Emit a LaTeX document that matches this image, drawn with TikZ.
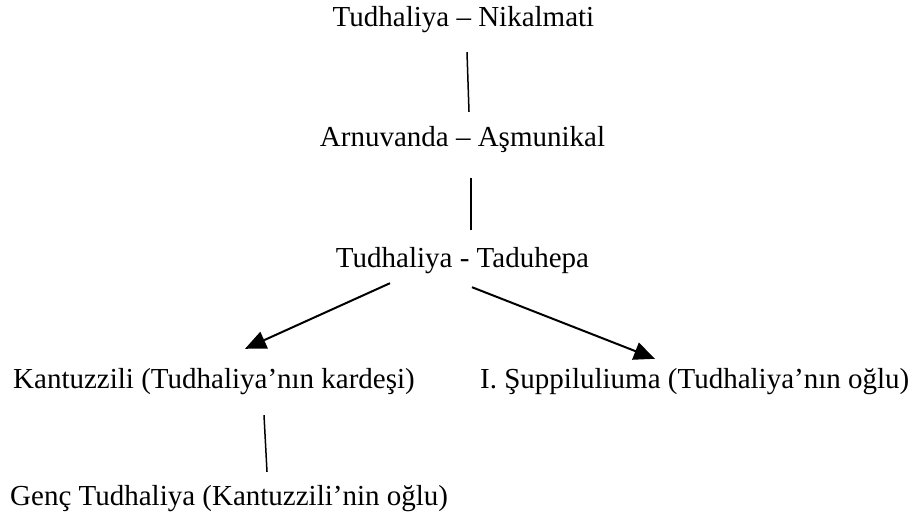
\documentclass[tikz,border=0pt]{standalone}
\usepackage{fontspec}
\setmainfont{Liberation Serif}
\usetikzlibrary{calc,arrows.meta}
\begin{document}
\begin{tikzpicture}[x=1pt,y=-1pt,
  lbl/.style={inner sep=0pt,text height=20pt,text depth=7pt,font=\fontsize{29}{35}\selectfont},
  link/.style={line width=1.5pt},
  arr/.style={line width=2pt,-{Triangle[length=21pt,width=18pt]}}]
\useasboundingbox[fill=white] (0,0) rectangle (919,524);
\node[lbl,anchor=base] (a) at (463.5,27) {Tudhaliya – Nikalmati};
\node[lbl,anchor=base] (b) at (462.5,147) {Arnuvanda – Aşmunikal};
\node[lbl,anchor=base] (c) at (462.5,267) {Tudhaliya - Taduhepa};
\node[lbl,anchor=base west] (d) at (13,388) {Kantuzzili (Tudhaliya’nın kardeşi)};
\node[lbl,anchor=base west] (e) at (480,388) {I. Şuppiluliuma (Tudhaliya’nın oğlu)};
\node[lbl,anchor=base west] (f) at (10,505) {Genç Tudhaliya (Kantuzzili’nin oğlu)};
\draw[link] ($(a.south)+(3.5,18)$) -- ($(b.north)+(6.5,-15)$);
\draw[link] ($(b.south)+(8.5,24)$) -- ($(c.north)+(8.5,-17)$);
\draw[arr] ($(c.south)+(-72.5,9)$) -- ($(d.north west)+(232,-19)$);
\draw[arr] ($(c.south)+(9.5,13)$) -- ($(e.north west)+(175,-9)$);
\draw[link] ($(d.south west)+(251,20)$) -- ($(f.north west)+(257,-13)$);
\end{tikzpicture}
\end{document}
